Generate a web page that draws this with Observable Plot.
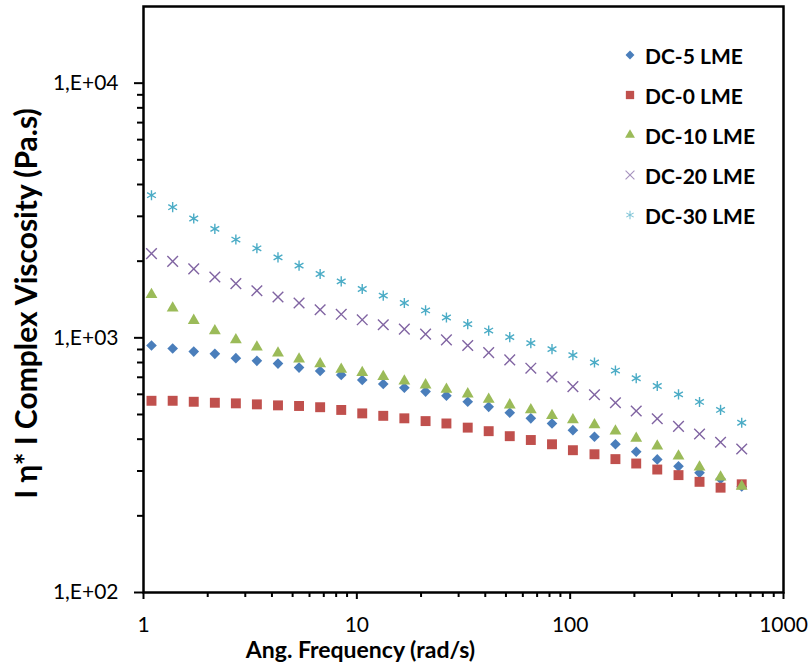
<!DOCTYPE html>
<html><head><meta charset="utf-8">
<script src="https://cdn.jsdelivr.net/npm/d3@7"></script>
<script src="https://cdn.jsdelivr.net/npm/@observablehq/plot@0.6"></script>
<style>
body{margin:0;background:#fff;}
#wrap{position:relative;width:809px;height:662px;}
#legend{position:absolute;left:618px;top:35px;font-family:Lato,sans-serif;font-weight:bold;font-size:21px;color:#000;}
.row{height:40px;display:flex;align-items:center;}
.row svg{width:24px;height:20px;margin-right:3px;}
</style></head><body><div id="wrap"><div id="legend"></div></div>
<script>
const freq = [1.09,1.37,1.72,2.16,2.71,3.40,4.27,5.36,6.73,8.45,10.6,13.3,16.7,21.0,26.3,33.1,41.5,52.1,65.4,82.2,103,130,163,204,256,322,404,507,637];
const seriesNames = ["DC-5 LME","DC-0 LME","DC-10 LME","DC-20 LME","DC-30 LME"];
const dc5  = [933,908,883,865,832,812,792,764,741,715,683,659,637,615,593,561,536,508,483,461,434,409,382,357,333,313,295,279,261];
const dc0  = [566,566,561,556,553,548,543,540,534,521,505,494,483,471,461,444,430,411,397,382,362,349,334,321,304,289,272,258,266];
const dc10 = [1477,1309,1170,1066,982,919,871,825,790,752,730,704,677,653,628,602,574,545,521,495,476,455,430,403,376,343,311,284,261];
const dc20 = [2142,1997,1865,1734,1632,1531,1446,1370,1289,1237,1177,1125,1082,1034,982,933,875,819,760,702,643,598,556,516,481,449,419,389,366];
const dc30 = [3631,3258,2942,2679,2432,2247,2071,1921,1781,1666,1555,1464,1370,1281,1202,1132,1068,1006,953,903,855,800,744,694,647,600,560,521,464];
const xTickValues = [1,10,100,1000];
const xTickLabels = ["1","10","100","1000"];
const yTickValues = [100,1000,10000];
const yTickLabels = ["1,E+02","1,E+03","1,E+04"];
const xTitle = "Ang. Frequency (rad/s)";
const yTitle = "I η* I Complex Viscosity (Pa.s)";

const styles = [
  {symbol:"diamond2", color:"#4A7EBB", filled:true, r:4.8},
  {symbol:"square", color:"#C0504D", filled:true, r:5.6},
  {symbol:"triangle", color:"#9BBB59", filled:true, r:4.4},
  {symbol:"times", color:"#8064A2", filled:false, r:4.9},
  {symbol:"asterisk", color:"#4BACC6", filled:false, r:4.8}
];
const allValues = [dc5, dc0, dc10, dc20, dc30];
const tables = allValues.map((vals, k) => freq.map((f, i) => ({f, v: vals[i], s: seriesNames[k]})));

const xMinor = [], yMinor = [];
for (const d of [1,10,100]) for (let m = 2; m <= 9; m++) xMinor.push(d*m);
for (const d of [100,1000]) for (let m = 2; m <= 9; m++) yMinor.push(d*m);

const dotMarks = tables.map((t, k) => {
  const s = styles[k];
  return Plot.dot(t, s.filled
    ? {x:"f", y:"v", symbol:s.symbol, r:s.r, fill:s.color, stroke:"none"}
    : {x:"f", y:"v", symbol:s.symbol, r:s.r, fill:"none", stroke:s.color, strokeWidth:1.4});
});

const chart = Plot.plot({
  width:809, height:662,
  marginLeft:143, marginRight:26, marginTop:6, marginBottom:70,
  x:{type:"log", domain:[1,1000]},
  y:{type:"log", domain:[100,20000]},
  style:{fontFamily:"Lato, sans-serif", background:"white", color:"black"},
  marks:[
    Plot.axisY(yMinor, {tickSize:6, tickFormat:() => "", strokeWidth:2, label:null}),
    Plot.axisY({ticks:yTickValues, tickSize:9, tickPadding:16, strokeWidth:2, fontSize:21, label:null,
      tickFormat:d => yTickLabels[yTickValues.indexOf(d)]}),
    Plot.axisX(xMinor, {tickSize:5, tickFormat:() => "", strokeWidth:2, label:null}),
    Plot.axisX({ticks:xTickValues, tickSize:7, tickPadding:18, strokeWidth:2, fontSize:21, label:null,
      tickFormat:d => xTickLabels[xTickValues.indexOf(d)]}),
    ...dotMarks,
    Plot.frame({stroke:"black", strokeWidth:2.5}),
    Plot.text([xTitle], {frameAnchor:"bottom", dx:-103, dy:58, fontSize:23, fontWeight:"bold", textAnchor:"middle", lineAnchor:"middle"}),
    Plot.text([yTitle], {frameAnchor:"left", dx:-116, dy:4, rotate:-90, fontSize:30, fontWeight:"bold", textAnchor:"middle", lineAnchor:"middle", wordSpacing:3})
  ]
});
document.getElementById("wrap").prepend(chart);

const legend = d3.select("#legend");
seriesNames.forEach((name, k) => {
  const s = styles[k];
  const row = legend.append("div").attr("class","row");
  const svg = row.append("svg");
  const sym = {diamond2:d3.symbolDiamond2, square:d3.symbolSquare, triangle:d3.symbolTriangle, times:d3.symbolTimes, asterisk:d3.symbolAsterisk}[s.symbol];
  const p = svg.append("path").attr("transform","translate(12,10)")
    .attr("d", d3.symbol(sym, Math.PI*s.r*s.r*0.7)());
  if (s.filled) p.attr("fill", s.color); else p.attr("fill","none").attr("stroke", s.color).attr("stroke-width",1.1).attr("opacity",0.7);
  row.append("span").text(name);
});
</script></body></html>
